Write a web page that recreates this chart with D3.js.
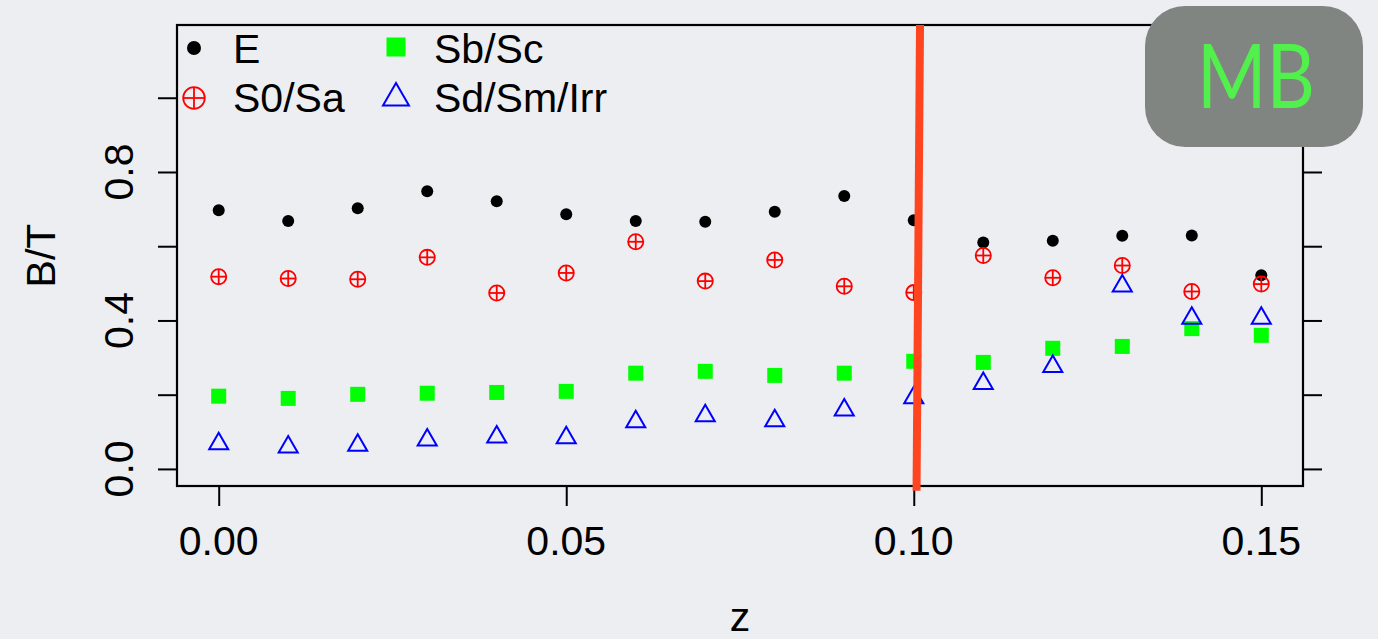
<!DOCTYPE html>
<html>
<head>
<meta charset="utf-8">
<script src="https://cdn.jsdelivr.net/npm/d3@7"></script>
<style>
  html, body { margin: 0; padding: 0; background: #eceef2; }
  svg { display: block; }
  text { font-family: "Liberation Sans", Arial, Helvetica, sans-serif; }
</style>
</head>
<body>
<svg id="chart" width="1378" height="639"></svg>
<script>
// Redshift bins
const z = [0.00, 0.01, 0.02, 0.03, 0.04, 0.05, 0.06, 0.07, 0.08, 0.09, 0.10, 0.11, 0.12, 0.13, 0.14, 0.15];

// Bulge-to-total ratio per morphological class
const btE      = [0.697, 0.668, 0.702, 0.748, 0.721, 0.686, 0.668, 0.666, 0.693, 0.735, 0.670, 0.610, 0.615, 0.628, 0.629, 0.522];
const btS0Sa   = [0.518, 0.513, 0.511, 0.570, 0.474, 0.528, 0.612, 0.506, 0.563, 0.492, 0.475, 0.575, 0.515, 0.548, 0.478, 0.498];
const btSbSc   = [0.196, 0.190, 0.201, 0.204, 0.206, 0.209, 0.258, 0.263, 0.252, 0.258, 0.290, 0.287, 0.325, 0.330, 0.378, 0.360];
const btSdSmIrr = [0.068, 0.059, 0.064, 0.078, 0.086, 0.084, 0.127, 0.143, 0.130, 0.159, 0.192, 0.230, 0.276, 0.493, 0.406, 0.406];

// Axis ticks
const xTicks = [0.00, 0.05, 0.10, 0.15];
const xTickLabels = ["0.00", "0.05", "0.10", "0.15"];
const yTicks = [0.0, 0.2, 0.4, 0.6, 0.8, 1.0];
const yLabelled = [0.0, 0.4, 0.8];
const yTickLabels = ["0.0", "0.4", "0.8"];

// Redshift cut marker (top and bottom ends, in data units)
const cutZ = [0.1009, 0.1004];
const cutBT = [1.196, -0.059];

const legendLabels = ["E", "S0/Sa", "Sb/Sc", "Sd/Sm/Irr"];

const svg = d3.select("#chart");
const W = 1378, H = 639;
const plot = { left: 177, right: 1303, top: 25, bottom: 486 };

svg.append("rect").attr("width", W).attr("height", H).attr("fill", "#eceef2");

const x = d3.scaleLinear().domain([-0.006, 0.156]).range([plot.left, plot.right]);
const y = d3.scaleLinear().domain([-0.046, 1.196]).range([plot.bottom, plot.top]);

const FS = 41;

// Axes (ticks only; labels placed R-style)
const gLeft = svg.append("g").attr("transform", `translate(${plot.left},0)`)
  .call(d3.axisLeft(y).tickValues(yTicks).tickSize(19).tickFormat(""));
const gRight = svg.append("g").attr("transform", `translate(${plot.right},0)`)
  .call(d3.axisRight(y).tickValues(yTicks).tickSize(19).tickFormat(""));
const gBottom = svg.append("g").attr("transform", `translate(0,${plot.bottom})`)
  .call(d3.axisBottom(x).tickValues(xTicks).tickSize(20).tickFormat(""));
[gLeft, gRight, gBottom].forEach(g => {
  g.select(".domain").remove();
  g.selectAll(".tick line").attr("stroke", "#000").attr("stroke-width", 2);
});

// Plot frame
svg.append("rect")
  .attr("x", plot.left).attr("y", plot.top)
  .attr("width", plot.right - plot.left).attr("height", plot.bottom - plot.top)
  .attr("fill", "none").attr("stroke", "#000").attr("stroke-width", 2.2);

// X tick labels
svg.append("g").selectAll("text").data(xTicks).join("text")
  .attr("x", d => x(d)).attr("y", 555)
  .attr("text-anchor", "middle").attr("font-size", FS).attr("fill", "#000")
  .text((d, i) => xTickLabels[i]);

// Y tick labels (rotated, parallel to axis)
svg.append("g").selectAll("text").data(yLabelled).join("text")
  .attr("transform", d => `translate(133,${y(d)}) rotate(-90)`)
  .attr("text-anchor", "middle").attr("font-size", FS).attr("fill", "#000")
  .text((d, i) => yTickLabels[i]);

// Axis titles
svg.append("text").attr("x", (plot.left + plot.right) / 2).attr("y", 631)
  .attr("text-anchor", "middle").attr("font-size", FS).text("z");
svg.append("text").attr("transform", `translate(55,${(plot.top + plot.bottom) / 2}) rotate(-90)`)
  .attr("text-anchor", "middle").attr("font-size", FS).text("B/T");

// Marker drawing helpers
function trianglePath(cx, cy, r) {
  const xc = r * Math.sqrt(3) / 2, yc = r / 2;
  return `M${cx},${cy - r}L${cx + xc},${cy + yc}L${cx - xc},${cy + yc}Z`;
}
function drawDot(g, cx, cy, r) {
  g.append("circle").attr("cx", cx).attr("cy", cy).attr("r", r).attr("fill", "#000");
}
function drawCirclePlus(g, cx, cy, r) {
  const s = g.append("g").attr("fill", "none").attr("stroke", "#ff0000").attr("stroke-width", 1.8);
  s.append("circle").attr("cx", cx).attr("cy", cy).attr("r", r);
  s.append("line").attr("x1", cx - r).attr("x2", cx + r).attr("y1", cy).attr("y2", cy);
  s.append("line").attr("x1", cx).attr("x2", cx).attr("y1", cy - r).attr("y2", cy + r);
}
function drawSquare(g, cx, cy, s) {
  g.append("rect").attr("x", cx - s / 2).attr("y", cy - s / 2).attr("width", s).attr("height", s).attr("fill", "#00ff00");
}
function drawTriangle(g, cx, cy, r) {
  g.append("path").attr("d", trianglePath(cx, cy, r))
    .attr("fill", "none").attr("stroke", "#0000ff").attr("stroke-width", 2);
}

const marks = svg.append("g");
z.forEach((zv, i) => drawDot(marks, x(zv), y(btE[i]), 6));
z.forEach((zv, i) => drawCirclePlus(marks, x(zv), y(btS0Sa[i]), 7.6));
z.forEach((zv, i) => drawSquare(marks, x(zv), y(btSbSc[i]), 15));
z.forEach((zv, i) => drawTriangle(marks, x(zv), y(btSdSmIrr[i]), 11));

// Redshift cut line
svg.append("line")
  .attr("x1", x(cutZ[0])).attr("y1", y(cutBT[0]))
  .attr("x2", x(cutZ[1])).attr("y2", y(cutBT[1]))
  .attr("stroke", "#ff4520").attr("stroke-width", 8);

// Legend
const lg = svg.append("g");
drawDot(lg, 194, 48, 7);
drawCirclePlus(lg, 194, 98, 10.8);
drawSquare(lg, 396, 47, 19);
drawTriangle(lg, 396, 98, 15);
const legendPos = [[233, 63], [233, 112], [434, 63], [434, 112]];
lg.selectAll("text").data(legendLabels).join("text")
  .attr("x", (d, i) => legendPos[i][0]).attr("y", (d, i) => legendPos[i][1])
  .attr("font-size", FS).attr("fill", "#000").text(d => d);

// Survey badge
const badge = svg.append("g");
badge.append("rect").attr("x", 1145).attr("y", 6).attr("width", 218).attr("height", 141)
  .attr("rx", 40).attr("ry", 40).attr("fill", "#808581");
badge.append("text").attr("x", 1256).attr("y", 108)
  .attr("text-anchor", "middle").attr("font-size", 90)
  .attr("font-weight", 400)
  .attr("textLength", 118).attr("lengthAdjust", "spacingAndGlyphs")
  .style("font-family", "Lato, 'Open Sans', sans-serif")
  .attr("fill", "#52f04c").text("MB");
</script>
</body>
</html>
